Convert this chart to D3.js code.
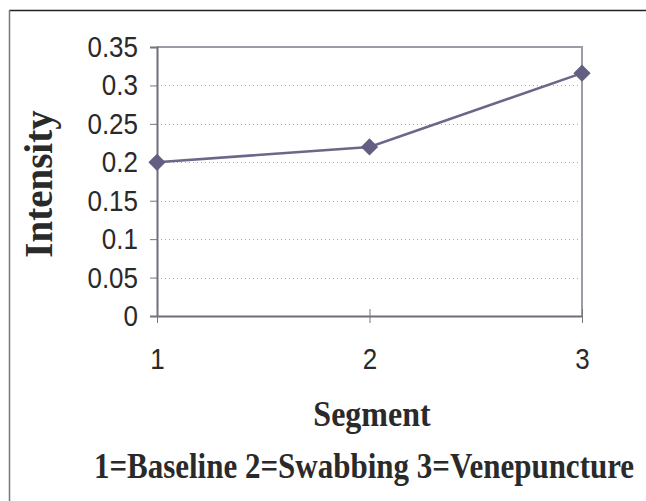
<!DOCTYPE html>
<html>
<head>
<meta charset="utf-8">
<script src="https://cdn.jsdelivr.net/npm/d3@7"></script>
<style>
  body { margin: 0; background: #fff; }
  svg { display: block; }
</style>
</head>
<body>
<div id="chart"></div>
<script>
// donnees du graphique
var segments = [1, 2, 3]
var intensity = [0.2, 0.22, 0.316]
var yTicks = [0, 0.05, 0.1, 0.15, 0.2, 0.25, 0.3, 0.35]
var xTitle = 'Segment'
var yTitle = 'Intensity'
var legendText = '1=Baseline 2=Swabbing 3=Venepuncture'

var width = 646
var height = 501
var plot = {left: 157, right: 582, top: 47, bottom: 316}
var stretch = 1.15 // le texte de l'original est un peu etire en hauteur

var svg = d3.select('#chart')
    .append('svg')
    .attr('width', width)
    .attr('height', height)

// cadre exterieur (seulement haut et gauche visibles)
svg.append('line')
    .attr('x1', 9).attr('x2', width).attr('y1', 10.5).attr('y2', 10.5)
    .attr('stroke', '#222').attr('stroke-width', 1.5)
svg.append('line')
    .attr('x1', 9.5).attr('x2', 9.5).attr('y1', 10).attr('y2', height)
    .attr('stroke', '#777').attr('stroke-width', 1.5)

// escalas
var x = d3.scaleLinear()
    .domain([1, 3])
    .range([plot.left, plot.right])

var y = d3.scaleLinear()
    .domain([0, 0.35])
    .range([plot.bottom, plot.top])

// lignes de grille pointillees
svg.append('g')
    .selectAll('line')
    .data(yTicks.filter(function(d) { return d > 0 && d < 0.35 }))
    .enter()
    .append('line')
    .attr('x1', plot.left).attr('x2', plot.right)
    .attr('y1', function(d) { return Math.round(y(d)) + 0.5 })
    .attr('y2', function(d) { return Math.round(y(d)) + 0.5 })
    .attr('stroke', '#aaa')
    .attr('stroke-width', 1)
    .attr('stroke-dasharray', '1,3')

// bordures du plot: haut et droite
svg.append('path')
    .attr('d', 'M' + plot.left + ',' + plot.top + 'H' + plot.right + 'V' + plot.bottom)
    .attr('fill', 'none')
    .attr('stroke', '#9c9ca8')
    .attr('stroke-width', 2)

// eje Y
var yaxis = d3.axisLeft(y)
    .tickValues(yTicks)
    .tickFormat(function(d) { return String(+d.toFixed(2)) })
    .tickSize(7)
    .tickPadding(12)
var gy = svg.append('g')
    .attr('transform', 'translate(' + plot.left + ',0)')
    .call(yaxis)
gy.select('.domain').attr('stroke', '#6e6e7a').attr('stroke-width', 2)
gy.selectAll('.tick line').attr('stroke', '#777')
gy.selectAll('.tick text')
    .attr('font-family', 'Liberation Sans, Arial, sans-serif')
    .attr('font-size', '26px')
    .attr('fill', '#2a2a2a')
    .attr('transform', 'scale(1,' + stretch + ')')

// eje X (les ticks traversent l'axe)
var xaxis = d3.axisBottom(x)
    .tickValues(segments)
    .tickFormat(d3.format('d'))
    .tickSizeInner(7)
    .tickSizeOuter(0)
    .tickPadding(21)
var gx = svg.append('g')
    .attr('transform', 'translate(0,' + plot.bottom + ')')
    .call(xaxis)
gx.select('.domain').attr('stroke', '#6e6e7a').attr('stroke-width', 2)
gx.selectAll('.tick line').attr('stroke', '#777').attr('y1', -7)
gx.selectAll('.tick text')
    .attr('font-family', 'Liberation Sans, Arial, sans-serif')
    .attr('font-size', '26px')
    .attr('fill', '#2a2a2a')
    .attr('transform', 'scale(1,' + stretch + ')')

// serie
var points = segments.map(function(s, i) { return {s: s, v: intensity[i]} })

svg.append('path')
    .datum(points)
    .attr('fill', 'none')
    .attr('stroke', '#6a6888')
    .attr('stroke-width', 2.5)
    .attr('d', d3.line()
        .x(function(d) { return x(d.s) })
        .y(function(d) { return y(d.v) }))

svg.append('g')
    .selectAll('path')
    .data(points)
    .enter()
    .append('path')
    .attr('d', d3.symbol().type(d3.symbolDiamond2).size(190))
    .attr('transform', function(d) { return 'translate(' + x(d.s) + ',' + y(d.v) + ')' })
    .attr('fill', '#625f82')

// titres
svg.append('text')
    .attr('transform', 'translate(52,184) rotate(-90)')
    .attr('text-anchor', 'middle')
    .attr('font-family', 'Liberation Serif, Times New Roman, serif')
    .attr('font-weight', 'bold')
    .attr('font-size', '39px')
    .attr('fill', '#2a2a2a')
    .text(yTitle)

svg.append('text')
    .attr('transform', 'translate(372,426) scale(1,' + stretch + ')')
    .attr('text-anchor', 'middle')
    .attr('font-family', 'Liberation Serif, Times New Roman, serif')
    .attr('font-weight', 'bold')
    .attr('font-size', '32px')
    .attr('fill', '#2a2a2a')
    .text(xTitle)

svg.append('text')
    .attr('transform', 'translate(364,478) scale(1,' + stretch + ')')
    .attr('text-anchor', 'middle')
    .attr('font-family', 'Liberation Serif, Times New Roman, serif')
    .attr('font-weight', 'bold')
    .attr('font-size', '31px')
    .attr('fill', '#2a2a2a')
    .text(legendText)
</script>
</body>
</html>
